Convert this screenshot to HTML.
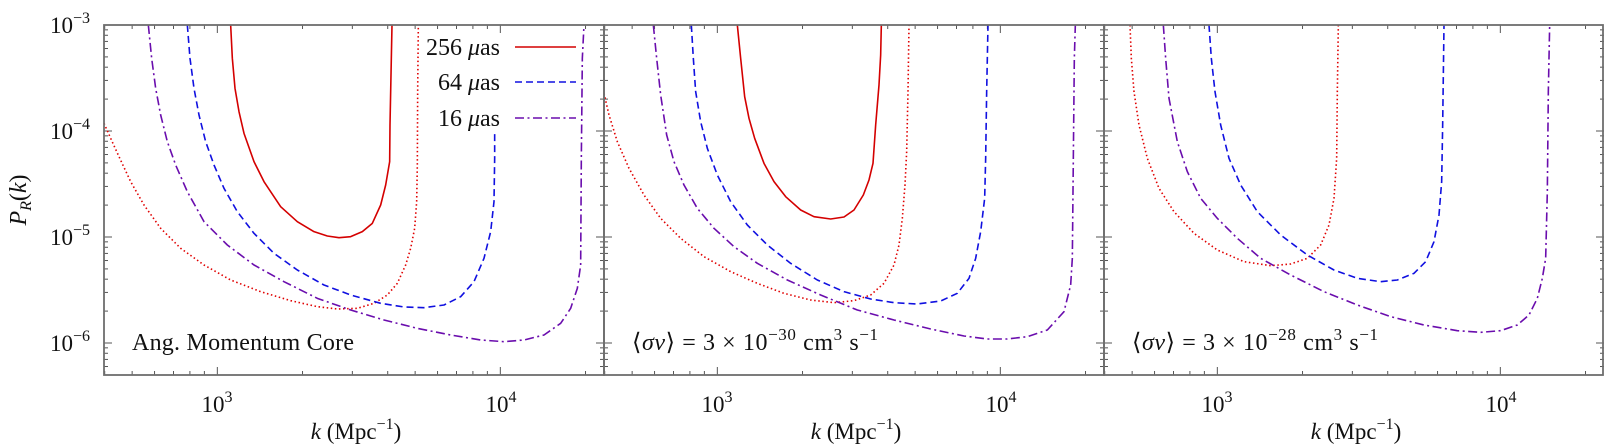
<!DOCTYPE html>
<html><head><meta charset="utf-8"><style>
body{margin:0;background:#fff}
svg{display:block}
text{font-family:"Liberation Serif",serif;fill:#111}
</style></head><body>
<svg id="s" width="1618" height="445" viewBox="0 0 1618 445" xmlns="http://www.w3.org/2000/svg">
<defs>
<style>
.c{fill:none;vector-effect:non-scaling-stroke;stroke-width:1.6;stroke-linejoin:round}
.rs{stroke:#d40000}
.rd{stroke:#e00000;stroke-dasharray:1.5 2.6}
.bd{stroke:#1010e0;stroke-dasharray:7 4}
.pd{stroke:#6a0dad;stroke-dasharray:9 3.5 2 3.5}
</style>
</defs>
<g id="ticks"></g>
<!-- Panel 1 -->
<g transform="translate(104,25) scale(0.33333)">
<polyline class="c rs" points="380,0 385,100 393,190 405,260 420,325 450,410 480,470 530,545 580,590 630,620 670,633 705,638 740,635 775,620 805,595 830,540 845,480 857,410 858,300 862,100 864,0"/>
<polyline class="c rd" points="0,295 20,340 45,395 80,470 120,540 170,610 230,670 300,720 380,765 470,800 560,827 640,845 700,852 760,850 810,835 850,810 880,775 905,720 920,670 932,610 938,530 940,420 941,200 943,0"/>
<polyline class="c bd" points="250,0 258,100 270,190 285,270 305,350 330,420 360,490 400,560 450,625 510,685 580,735 660,780 740,810 830,835 900,846 960,848 1020,840 1070,815 1110,770 1140,700 1160,620 1170,530 1172,400 1172,318"/>
<polyline class="c pd" points="133,0 143,100 155,190 170,270 190,350 215,420 250,500 300,590 370,660 450,720 540,770 640,820 740,855 840,885 940,910 1040,930 1130,945 1200,950 1260,945 1320,930 1370,895 1400,850 1420,790 1430,720 1432,400 1435,100 1440,0"/>
</g>
<!-- Panel 2 -->
<g transform="translate(604,25) scale(0.33333)">
<polyline class="c rs" points="400,0 410,100 422,215 435,280 452,340 480,415 510,470 545,515 590,555 630,575 680,582 720,576 750,555 778,510 795,465 807,415 815,300 825,180 830,90 832,0"/>
<polyline class="c rd" points="0,205 15,270 40,350 75,430 120,510 170,580 230,640 300,695 380,740 460,775 540,805 620,825 690,833 750,827 800,810 840,775 870,720 885,660 895,580 903,480 908,380 912,200 915,0"/>
<polyline class="c bd" points="262,0 268,100 275,200 290,290 310,370 340,450 380,530 430,600 490,660 560,715 640,765 720,800 800,822 870,833 940,837 1010,828 1060,805 1095,760 1115,700 1130,620 1142,520 1145,400 1148,200 1152,0"/>
<polyline class="c pd" points="148,0 158,100 170,210 188,330 210,410 240,480 280,550 330,610 390,665 460,715 550,765 650,810 760,855 870,885 980,912 1080,933 1150,942 1210,942 1270,935 1330,915 1380,860 1400,780 1405,700 1408,400 1411,100 1414,0"/>
</g>
<!-- Panel 3 -->
<g transform="translate(1104,25) scale(0.33333)">
<polyline class="c rd" points="78,0 82,100 90,200 105,300 130,400 165,490 210,560 270,625 340,675 420,710 500,722 560,717 610,700 650,660 675,600 690,520 698,400 700,200 703,0"/>
<polyline class="c bd" points="315,0 322,100 333,200 350,300 375,400 410,480 460,560 530,630 610,690 690,735 760,760 830,770 880,765 930,745 965,710 990,650 1005,570 1013,470 1016,300 1020,0"/>
<polyline class="c pd" points="178,0 185,100 195,220 220,350 250,440 290,520 340,580 400,640 470,700 560,750 660,800 760,840 860,875 960,900 1060,917 1130,922 1190,917 1240,900 1275,870 1300,820 1315,760 1325,700 1330,500 1333,200 1337,0"/>
</g>
<!-- frames -->
<g fill="none" stroke="#6e6e6e" stroke-width="1.8">
<rect x="104" y="25" width="500" height="350"/>
<rect x="604" y="25" width="500" height="350"/>
<rect x="1104" y="25" width="499" height="350"/>
</g>
<!-- legend -->
<g font-size="24">
<text x="500" y="55" text-anchor="end">256 <tspan font-style="italic">μ</tspan>as</text>
<text x="500" y="90" text-anchor="end">64 <tspan font-style="italic">μ</tspan>as</text>
<text x="500" y="126" text-anchor="end">16 <tspan font-style="italic">μ</tspan>as</text>
</g>
<line x1="515" y1="47" x2="576" y2="47" stroke="#d40000" stroke-width="1.6"/>
<line x1="515" y1="82" x2="576" y2="82" stroke="#1010e0" stroke-width="1.6" stroke-dasharray="7 4"/>
<line x1="515" y1="118" x2="576" y2="118" stroke="#6a0dad" stroke-width="1.6" stroke-dasharray="9 3.5 2 3.5"/>
<!-- panel annotations -->
<text x="132" y="350" font-size="24" textLength="222">Ang.  Momentum Core</text>
<text x="632" y="350" font-size="24" letter-spacing="0.6">⟨<tspan font-style="italic">σv</tspan>⟩ = 3 × 10<tspan dy="-10" font-size="17">−30</tspan><tspan dy="10"> cm</tspan><tspan dy="-10" font-size="17">3</tspan><tspan dy="10"> s</tspan><tspan dy="-10" font-size="17">−1</tspan></text>
<text x="1132" y="350" font-size="24" letter-spacing="0.6">⟨<tspan font-style="italic">σv</tspan>⟩ = 3 × 10<tspan dy="-10" font-size="17">−28</tspan><tspan dy="10"> cm</tspan><tspan dy="-10" font-size="17">3</tspan><tspan dy="10"> s</tspan><tspan dy="-10" font-size="17">−1</tspan></text>
<!-- y tick labels -->
<g font-size="23" text-anchor="end">
<text x="90" y="33">10<tspan dy="-10" font-size="16">−3</tspan></text>
<text x="90" y="139">10<tspan dy="-10" font-size="16">−4</tspan></text>
<text x="90" y="245">10<tspan dy="-10" font-size="16">−5</tspan></text>
<text x="90" y="351">10<tspan dy="-10" font-size="16">−6</tspan></text>
</g>
<!-- y axis label -->
<text transform="translate(26,200) rotate(-90)" font-size="24" text-anchor="middle"><tspan font-style="italic">P</tspan><tspan font-size="16" dy="5" font-style="italic">R</tspan><tspan dy="-5">(<tspan font-style="italic">k</tspan>)</tspan></text>
<!-- x labels -->
<g font-size="23" text-anchor="middle" id="xl"></g>
</svg>
<script>
(function(){
var t=document.getElementById('ticks'),xl=document.getElementById('xl');
var s='';
function L(x1,y1,x2,y2){s+='<line x1="'+x1+'" y1="'+y1+'" x2="'+x2+'" y2="'+y2+'" stroke="#555" stroke-width="1"/>';}
[104,604,1104].forEach(function(p){
  var right=p+500;
  for(var d=2;d<=4;d++)for(var m=1;m<=9;m++){
    var lk=d+Math.log10(m); var x=p+113.33+283*(lk-3);
    if(x<p+0.3||x>right-0.3)continue;
    var len=(m==1)?8:4;
    L(x,375,x,375-len);L(x,25,x,25+len);
  }
  for(var d=-7;d<=-3;d++)for(var m=1;m<=9;m++){
    var lp=d+Math.log10(m); var y=25+106*(-3-lp);
    if(y<25.3||y>374.7)continue;
    var len=(m==1)?8:4;
    L(p,y,p+len,y);L(right,y,right-len,y);
  }
  var h='';
  h+='<text x="'+(p+113)+'" y="412">10<tspan dy="-10" font-size="16">3</tspan></text>';
  h+='<text x="'+(p+397)+'" y="412">10<tspan dy="-10" font-size="16">4</tspan></text>';
  h+='<text x="'+(p+252)+'" y="439"><tspan font-style="italic">k</tspan> (Mpc<tspan dy="-10" font-size="16">−1</tspan><tspan dy="10">)</tspan></text>';
  xl.innerHTML+=h;
});
t.innerHTML=s;
})();
</script>
</body></html>
